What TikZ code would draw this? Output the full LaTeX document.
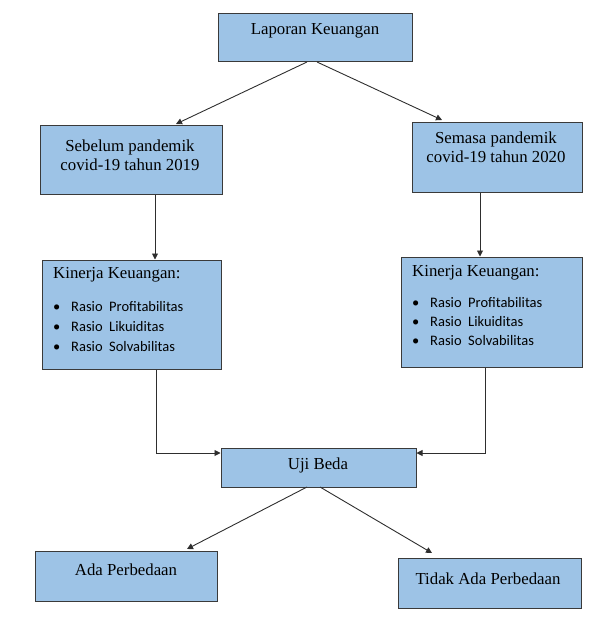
\documentclass[tikz,border=0pt]{standalone}
\usepackage{fontspec}
\setmainfont{Liberation Serif}
\newfontfamily\carlfont{Carlito}
\usetikzlibrary{arrows.meta}
\definecolor{boxfill}{HTML}{9DC3E6}
\definecolor{boxline}{HTML}{3A3A3A}
\definecolor{conn}{HTML}{2E2E2E}
\tikzset{
  box/.style={draw=boxline, line width=1pt, fill=boxfill, inner sep=0pt},
  ttl/.style={font=\fontsize{16.8}{19}\selectfont, align=center, inner sep=0pt},
  item/.style={font=\carlfont\fontsize{14.5}{16}\selectfont, anchor=west, inner sep=0pt},
  conn/.style={draw=conn, line width=0.9pt, -{Triangle[length=6pt,width=6pt]}},
}
\newcommand{\bul}{\makebox[18pt][l]{\textbullet}}
\begin{document}
\begin{tikzpicture}[x=1pt,y=-1pt]
\useasboundingbox (0,0) rectangle (596,634);
% boxes
\node[box, minimum width=194pt, minimum height=48pt] (lap) at (315,38) {};
\node[box, minimum width=182pt, minimum height=69pt] (seb) at (131,159.5) {};
\node[box, minimum width=170pt, minimum height=70pt] (sem) at (497,157) {};
\node[box, minimum width=179pt, minimum height=109pt] (kl) at (131.5,314.5) {};
\node[box, minimum width=181pt, minimum height=110pt] (kr) at (491.5,312) {};
\node[box, minimum width=195pt, minimum height=39pt] (uji) at (318.5,467.5) {};
\node[box, minimum width=182pt, minimum height=50pt] (ada) at (126,576) {};
\node[box, minimum width=183pt, minimum height=50pt] (tid) at (489.5,583) {};
% texts
\node[ttl] (lapt) at (315,31) {Laporan Keuangan};
\node[ttl] (sebt) at (130,155) {Sebelum pandemik\\covid-19 tahun 2019};
\node[ttl] (semt) at (496,147) {Semasa pandemik\\covid-19 tahun 2020};
\node[ttl] (ujit) at (318,465) {Uji Beda};
\node[ttl] (adat) at (126,570) {Ada Perbedaan};
\node[ttl] (tidt) at (488,579) {Tidak Ada Perbedaan};
% Kinerja left
\node[ttl, anchor=west] (klt) at (53,275) {Kinerja Keuangan:};
\node[item] (kl1) at (53,307) {\bul Rasio\ \ Profitabilitas};
\node[item] (kl2) at (53,327) {\bul Rasio\ \ Likuiditas};
\node[item] (kl3) at (53,347) {\bul Rasio\ \ Solvabilitas};
% Kinerja right
\node[ttl, anchor=west] (krt) at (412,273) {Kinerja Keuangan:};
\node[item] (kr1) at (412,303) {\bul Rasio\ \ Profitabilitas};
\node[item] (kr2) at (412,322) {\bul Rasio\ \ Likuiditas};
\node[item] (kr3) at (412,341) {\bul Rasio\ \ Solvabilitas};
% connectors
\coordinate (lapL) at (307,62);
\coordinate (lapR) at (317,62);
\coordinate (sebT) at (176,124);
\coordinate (semT) at (442,120);
\draw[conn] (lapL) -- (sebT);
\draw[conn] (lapR) -- (semT);
\draw[conn] (seb.south -| 155,0) -- (kl.north -| 155,0);
\draw[conn] (sem.south -| 480,0) -- (kr.north -| 480,0);
\draw[conn] (kl.south -| 156,0) |- (uji.west |- 0,453);
\draw[conn] (kr.south -| 485,0) |- (uji.east |- 0,453);
\coordinate (ujiL) at (307,487);
\coordinate (ujiR) at (320,487);
\coordinate (adaT) at (187,549);
\coordinate (tidT) at (432,553);
\draw[conn] (ujiL) -- (adaT);
\draw[conn] (ujiR) -- (tidT);
\end{tikzpicture}
\end{document}
